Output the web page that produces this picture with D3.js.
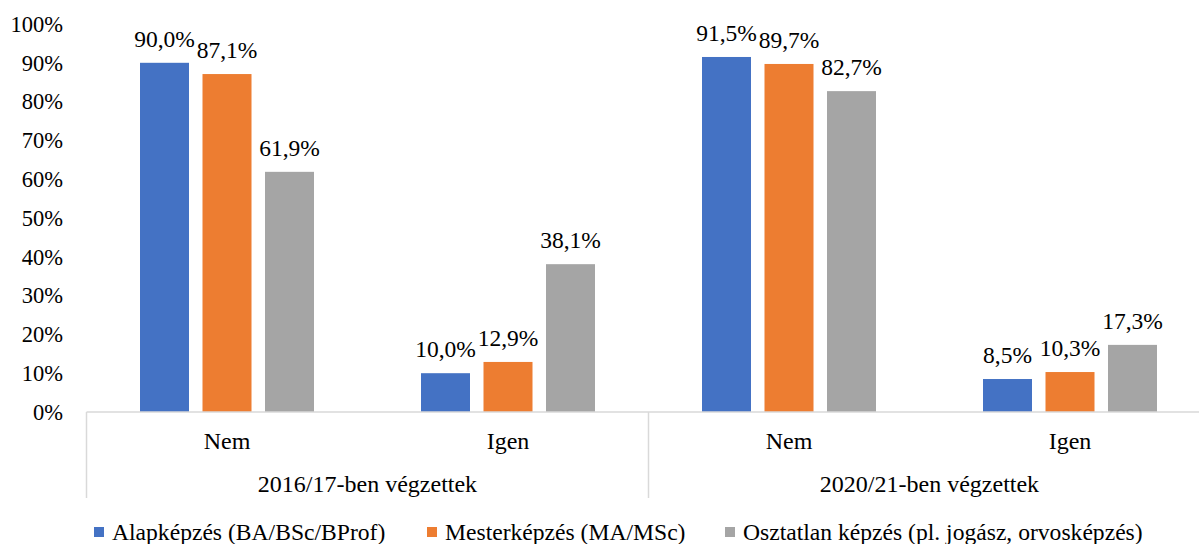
<!DOCTYPE html>
<html>
<head>
<meta charset="utf-8">
<script src="https://cdn.jsdelivr.net/npm/d3@7"></script>
<style>
  html, body { margin: 0; padding: 0; background: #fff; }
  text { font-family: "Liberation Serif", "Times New Roman", serif; fill: #000; }
</style>
</head>
<body>
<div id="chart"></div>
<script>
// chart values
const groups = ['2016/17-ben végzettek', '2020/21-ben végzettek'];
const answers = ['Nem', 'Igen'];
const series = ['Alapképzés (BA/BSc/BProf)', 'Mesterképzés (MA/MSc)', 'Osztatlan képzés (pl. jogász, orvosképzés)'];
const colors = ['#4472C4', '#ED7D31', '#A5A5A5'];
// one row per (group, answer), one value per series
const alapValues = [90.0, 10.0, 91.5, 8.5];
const mesterValues = [87.1, 12.9, 89.7, 10.3];
const osztatlanValues = [61.9, 38.1, 82.7, 17.3];
const yTicks = [0, 10, 20, 30, 40, 50, 60, 70, 80, 90, 100];

const W = 1199, H = 544;
const plotLeft = 86.5, plotRight = 1210.5, plotTop = 24, base = 412;
const fs = 24;
const serif = '"Liberation Serif", "Times New Roman", serif';

const cats = [];
groups.forEach(g => answers.forEach(a => cats.push(g + '|' + a)));
const valuesBySeries = [alapValues, mesterValues, osztatlanValues];

const svg = d3.select('#chart').append('svg')
  .attr('width', W).attr('height', H);

const x0 = d3.scaleBand().domain(cats).range([plotLeft, plotRight]);
const x1 = d3.scaleBand().domain(d3.range(series.length))
  .range([0, x0.bandwidth()])
  .paddingInner(0.216).paddingOuter(0.856);
const y = d3.scaleLinear().domain([0, 100]).range([base, plotTop]);

const fmt = v => v.toFixed(1).replace('.', ',') + '%';

// y axis labels
const yAxis = d3.axisLeft(y).tickValues(yTicks).tickSize(0).tickPadding(0)
  .tickFormat(d => d + '%');
const ya = svg.append('g').attr('transform', 'translate(63,0)').call(yAxis)
  .attr('font-family', serif).attr('font-size', 22.5);
ya.select('.domain').remove();
ya.selectAll('text').style('font-family', serif).attr('fill', '#000');

// bars
const catG = svg.append('g').selectAll('g').data(cats).join('g')
  .attr('transform', d => `translate(${x0(d)},0)`);

catG.each(function(c, ci) {
  const g = d3.select(this);
  const rows = series.map((s, si) => ({ si, v: valuesBySeries[si][ci] }));
  g.selectAll('rect').data(rows).join('rect')
    .attr('x', d => x1(d.si))
    .attr('width', x1.bandwidth())
    .attr('y', d => y(d.v))
    .attr('height', d => base - y(d.v))
    .attr('fill', d => colors[d.si]);
  g.selectAll('text.lbl').data(rows).join('text')
    .attr('class', 'lbl')
    .attr('x', d => x1(d.si) + x1.bandwidth() / 2)
    .attr('y', d => y(d.v) - 16)
    .attr('text-anchor', 'middle')
    .attr('font-size', 23.5)
    .style('font-family', serif)
    .text(d => fmt(d.v));
});

// category axis lines
const axisColor = '#d9d9d9';
svg.append('line').attr('x1', plotLeft).attr('x2', plotRight).attr('y1', base).attr('y2', base)
  .attr('stroke', axisColor).attr('stroke-width', 1.5);
const groupW = x0.bandwidth() * answers.length;
d3.range(groups.length + 1).forEach(i => {
  const gx = plotLeft + i * groupW;
  svg.append('line').attr('x1', gx).attr('x2', gx).attr('y1', base).attr('y2', 498)
    .attr('stroke', axisColor).attr('stroke-width', 1.5);
});

// inner labels
svg.append('g').selectAll('text').data(cats).join('text')
  .attr('x', d => x0(d) + x0.bandwidth() / 2)
  .attr('y', 449)
  .attr('text-anchor', 'middle')
  .attr('font-size', fs)
  .style('font-family', serif)
  .text(d => d.split('|')[1]);

// outer labels
svg.append('g').selectAll('text').data(groups).join('text')
  .attr('x', (d, i) => plotLeft + i * groupW + groupW / 2)
  .attr('y', 492)
  .attr('text-anchor', 'middle')
  .attr('font-size', fs)
  .style('font-family', serif)
  .text(d => d);

// legend
const legendX = [94, 427, 725];
const leg = svg.append('g').selectAll('g').data(series).join('g')
  .attr('transform', (d, i) => `translate(${legendX[i]},527)`);
leg.append('rect').attr('width', 10).attr('height', 10).attr('fill', (d, i) => colors[i]);
leg.append('text').attr('x', 18).attr('y', 13).attr('font-size', 23.6)
  .style('font-family', serif).text(d => d);
</script>
</body>
</html>
